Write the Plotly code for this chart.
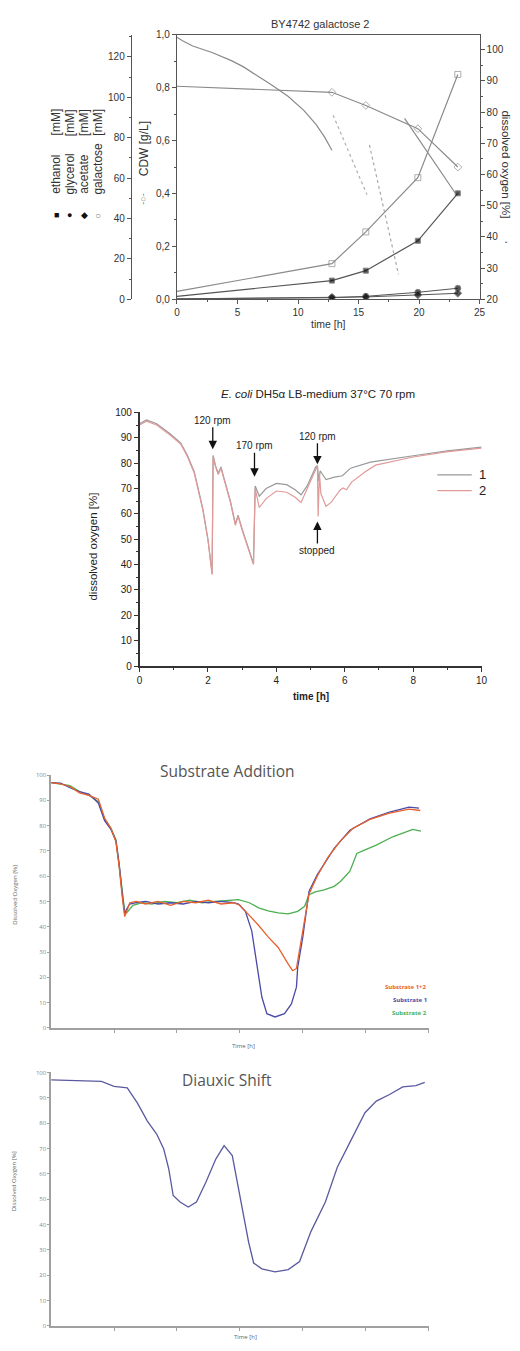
import plotly.graph_objects as go

W, H = 520, 1351


def px(x):
    return x / W


def py(y):
    return 1 - y / H


# ---------------- Panel 1 data: BY4742 galactose 2 ----------------
sample_t = [0, 12.8, 15.6, 19.9, 23.2]
cdw = [0.03, 0.135, 0.255, 0.46, 0.85]
galactose = [105.5, 102.5, 96.0, 84.5, 65.5]
ethanol = [1.5, 9.3, 14.2, 29.0, 52.5]
glycerol = [0.3, 0.8, 1.5, 3.5, 5.5]
acetate = [0.2, 1.0, 1.2, 2.2, 3.0]

do_t_a = [0, 0.5, 1.3, 2.9, 4.5, 5.5, 6.7, 7.8, 9.2, 10.5, 11.5, 12.2, 12.8]
do_a = [104.0, 102.8, 101.2, 99.1, 96.5, 94.5, 91.5, 88.8, 85.0, 80.5, 76.0, 72.0, 67.8]
do_t_b = [12.9, 15.7]
do_b = [79.0, 53.5]
do_t_c = [15.9, 18.3]
do_c = [69.5, 28.0]
do_t_d = [18.8, 23.0]
do_d = [78.0, 54.0]

# ---------------- Panel 2 data: E. coli DH5a ----------------
ecoli_t1 = [0, 0.2, 0.5, 0.9, 1.2, 1.4, 1.6, 1.85, 2.0, 2.08, 2.12, 2.15, 2.22, 2.3,
            2.38, 2.45, 2.55, 2.66, 2.8, 2.88, 3.0, 3.15, 3.33, 3.38, 3.5, 3.7, 4.0,
            4.3, 4.55, 4.72, 4.9, 5.15, 5.2, 5.24, 5.28, 5.45, 5.7, 5.93, 6.17, 6.75,
            7.5, 8.2, 9.0, 10.0]
ecoli_do1 = [95.5, 97.0, 95.5, 91.5, 88.0, 83.0, 76.5, 62.0, 50.0, 40.0, 36.5, 83.0, 79.0,
             76.0, 78.5, 75.0, 70.0, 64.8, 56.0, 59.5, 54.0, 48.0, 40.5, 71.0, 67.0, 70.0,
             72.0, 71.5, 69.5, 67.5, 71.0, 78.5, 79.0, 73.0, 77.0, 73.5, 74.5, 75.0, 78.0,
             80.4, 82.0, 83.3, 84.8, 86.3]
ecoli_t2 = [0, 0.2, 0.5, 0.9, 1.2, 1.4, 1.6, 1.85, 2.0, 2.08, 2.12, 2.15, 2.22, 2.3,
            2.38, 2.45, 2.55, 2.66, 2.8, 2.88, 3.0, 3.15, 3.33, 3.38, 3.5, 3.7, 4.0,
            4.3, 4.55, 4.72, 4.9, 5.15, 5.2, 5.22, 5.26, 5.3, 5.45, 5.6, 5.87, 5.95,
            6.05, 6.2, 6.6, 6.9, 8.0, 8.96, 10.0]
ecoli_do2 = [95.0, 96.5, 95.0, 91.0, 87.5, 82.5, 76.0, 61.5, 49.5, 39.5, 36.0, 82.5, 78.5,
             75.5, 78.0, 74.5, 69.5, 64.3, 55.5, 59.0, 53.5, 47.5, 40.0, 70.0, 62.5, 66.0,
             69.0, 68.5, 66.5, 64.5, 70.0, 78.0, 79.0, 59.0, 76.0, 68.0, 63.0, 64.5, 69.5,
             70.2, 69.5, 72.5, 76.6, 79.2, 82.4, 84.4, 85.9]

# ---------------- Panel 3 data: Substrate Addition ----------------
s12_x = [0, 0.15, 0.3, 0.45, 0.6, 0.75, 0.85, 0.95, 1.03, 1.08, 1.13, 1.17, 1.2, 1.25,
         1.35, 1.5, 1.7, 1.9, 2.1, 2.3, 2.5, 2.7, 2.9, 3.0, 3.14, 3.3, 3.45, 3.61, 3.77,
         3.84, 3.9, 3.95, 4.02, 4.1, 4.23, 4.4, 4.6, 4.8, 5.07, 5.38, 5.69, 5.87]
s12_y = [97, 96.5, 95.5, 93, 92, 90.5, 83, 79, 73.5, 64, 52, 44, 46, 49.5, 50, 49, 50,
         48.5, 50, 49.5, 50.5, 49, 49.5, 48.5, 44.8, 40.5, 36, 31.8, 25.2, 22.6, 23.5,
         30.5, 41, 53, 60, 67.5, 74, 79, 82.5, 85, 86.5, 86]
s1_x = [0, 0.15, 0.3, 0.45, 0.6, 0.75, 0.85, 0.95, 1.03, 1.08, 1.13, 1.17, 1.2, 1.25,
        1.35, 1.5, 1.7, 1.9, 2.1, 2.3, 2.5, 2.7, 2.9, 2.98, 3.09, 3.19, 3.27, 3.35, 3.43,
        3.56, 3.71, 3.82, 3.9, 3.92, 4.0, 4.1, 4.23, 4.5, 4.75, 5.07, 5.38, 5.69, 5.85]
s1_y = [97, 96.8, 95, 93.5, 92.5, 89, 82, 78.5, 74, 65, 53, 45, 47, 49, 49.5, 50, 49,
        49.5, 49, 50, 49.5, 50, 49.5, 49, 46, 38.3, 25.2, 12.2, 5.6, 4.3, 5.6, 9.5, 16.1,
        23.9, 35.7, 54, 60.5, 71, 78.2, 82.7, 85.4, 87.3, 86.9]
s2_x = [0, 0.15, 0.3, 0.45, 0.6, 0.75, 0.85, 0.95, 1.03, 1.08, 1.13, 1.17, 1.2, 1.3,
        1.45, 1.6, 1.8, 2.0, 2.2, 2.4, 2.6, 2.8, 2.98, 3.15, 3.3, 3.45, 3.61, 3.77, 3.92,
        4.03, 4.1, 4.2, 4.34, 4.5, 4.6, 4.75, 4.86, 5.0, 5.17, 5.43, 5.69, 5.75, 5.88]
s2_y = [97, 96.5, 95.8, 93.5, 92, 89.5, 82.5, 79, 74.5, 65, 53, 46, 45.5, 48.5, 49.5, 49,
        50, 49.5, 50.5, 49.5, 50, 50.5, 50.7, 49.5, 47.5, 46.3, 45.5, 45.1, 46.1, 48.1,
        52.7, 53.8, 54.6, 56, 57.9, 62, 69, 70.5, 72.3, 75.6, 78.2, 78.5, 77.8]

# ---------------- Panel 4 data: Diauxic Shift ----------------
dx_x = [0, 0.28, 0.59, 0.8, 1.0, 1.21, 1.37, 1.53, 1.68, 1.79, 1.87, 1.94, 2.05, 2.18,
        2.31, 2.46, 2.62, 2.75, 2.88, 2.98, 3.06, 3.14, 3.22, 3.35, 3.56, 3.77, 3.95,
        4.13, 4.36, 4.55, 4.75, 4.99, 5.17, 5.38, 5.59, 5.8, 5.94]
dx_y = [97.1, 96.9, 96.9, 96.5, 94.5, 93.9, 88, 80.8, 75.6, 69.8, 61.9, 51.5, 48.9, 46.9,
        48.9, 56.7, 65.9, 71.1, 67.2, 54.1, 43.7, 33, 24.8, 22.5, 21.3, 22.2, 25.4, 37.2,
        48.9, 62.6, 72.4, 84.1, 88.7, 91.3, 94.3, 94.8, 96.1]

fig = go.Figure()

# ---- Panel 1 traces ----
G = "#8a8a8a"
msz = [0] + [6] * (len(sample_t) - 1)
fig.add_trace(go.Scatter(x=do_t_a, y=do_a, xaxis="x", yaxis="y2", mode="lines",
                         line=dict(color=G, width=1.2)))
fig.add_trace(go.Scatter(x=do_t_b, y=do_b, xaxis="x", yaxis="y2", mode="lines",
                         line=dict(color="#b0b0b0", width=1.2, dash="dot")))
fig.add_trace(go.Scatter(x=do_t_c, y=do_c, xaxis="x", yaxis="y2", mode="lines",
                         line=dict(color="#a8a8a8", width=1.2, dash="dot")))
fig.add_trace(go.Scatter(x=do_t_d, y=do_d, xaxis="x", yaxis="y2", mode="lines",
                         line=dict(color=G, width=1.2)))
fig.add_trace(go.Scatter(x=sample_t, y=galactose, xaxis="x", yaxis="y3", mode="lines+markers",
                         line=dict(color=G, width=1.2),
                         marker=dict(symbol="diamond-open", size=msz, color=G)))
fig.add_trace(go.Scatter(x=sample_t, y=cdw, xaxis="x", yaxis="y", mode="lines+markers",
                         line=dict(color=G, width=1.2),
                         marker=dict(symbol="square-open", size=msz, color=G)))
fig.add_trace(go.Scatter(x=sample_t, y=ethanol, xaxis="x", yaxis="y3", mode="lines+markers",
                         line=dict(color="#555", width=1.2),
                         marker=dict(symbol="square", size=[0] + [5] * 4, color="#111")))
fig.add_trace(go.Scatter(x=sample_t, y=glycerol, xaxis="x", yaxis="y3", mode="lines+markers",
                         line=dict(color="#555", width=1),
                         marker=dict(symbol="circle", size=msz, color="#111")))
fig.add_trace(go.Scatter(x=sample_t, y=acetate, xaxis="x", yaxis="y3", mode="lines+markers",
                         line=dict(color="#555", width=1),
                         marker=dict(symbol="diamond", size=msz, color="#111")))

# ---- Panel 2 traces ----
fig.add_trace(go.Scatter(x=ecoli_t1, y=ecoli_do1, xaxis="x2", yaxis="y4", mode="lines",
                         line=dict(color="#9a9a9a", width=1.2)))
fig.add_trace(go.Scatter(x=ecoli_t2, y=ecoli_do2, xaxis="x2", yaxis="y4", mode="lines",
                         line=dict(color="#e09a9a", width=1.2)))

# ---- Panel 3 traces ----
fig.add_trace(go.Scatter(x=s2_x, y=s2_y, xaxis="x3", yaxis="y5", mode="lines",
                         line=dict(color="#4caf50", width=1.3)))
fig.add_trace(go.Scatter(x=s1_x, y=s1_y, xaxis="x3", yaxis="y5", mode="lines",
                         line=dict(color="#4a4aa8", width=1.3)))
fig.add_trace(go.Scatter(x=s12_x, y=s12_y, xaxis="x3", yaxis="y5", mode="lines",
                         line=dict(color="#e8602c", width=1.3)))

# ---- Panel 4 trace ----
fig.add_trace(go.Scatter(x=dx_x, y=dx_y, xaxis="x4", yaxis="y6", mode="lines",
                         line=dict(color="#5a5aa0", width=1.3)))

AX1 = "#555"
f1 = dict(family="Liberation Sans, Arial, sans-serif", size=10, color="#333")
common1 = dict(showgrid=False, zeroline=False, showline=True, linecolor=AX1, linewidth=1,
               ticks="outside", ticklen=4, tickcolor=AX1, tickfont=f1)

light = "#a0a0a0"
f3 = dict(family="Open Sans, sans-serif", size=6, color="#888")
common3 = dict(showgrid=False, zeroline=False, showline=True, linecolor=light, linewidth=1.5,
               ticks="outside", tickcolor=light, tickfont=f3)

fig.update_layout(
    width=W, height=H, autosize=False,
    margin=dict(l=0, r=0, t=0, b=0),
    paper_bgcolor="white", plot_bgcolor="white",
    showlegend=False,
    separators=",.",
    font=dict(family="Liberation Sans, Arial, sans-serif"),
    # panel 1
    xaxis=dict(domain=[px(177), px(485)], anchor="y", range=[0, 25], tick0=0, dtick=5,
               minor=dict(dtick=2.5, ticks="outside", ticklen=2, tickcolor=AX1),
               mirror=True, **common1),
    yaxis=dict(domain=[py(296), py(29)], anchor="x", range=[0, 1.0], dtick=0.2,
               tickformat=".1f", minor=dict(dtick=0.1, ticks="outside", ticklen=2, tickcolor=AX1),
               **common1),
    yaxis2=dict(overlaying="y", side="right", anchor="x", range=[20, 104.8], tick0=20, dtick=10,
                minor=dict(dtick=5, ticks="outside", ticklen=2, tickcolor=AX1), **common1),
    yaxis3=dict(overlaying="y", side="left", anchor="free", position=px(130), range=[0, 131],
                dtick=20, minor=dict(dtick=10, ticks="outside", ticklen=2, tickcolor=AX1),
                **common1),
    # panel 2
    xaxis2=dict(domain=[px(139), px(487)], anchor="y4", range=[0, 10], dtick=2,
                minor=dict(dtick=1, ticks="outside", ticklen=2, tickcolor="#333"),
                showgrid=False, zeroline=False, showline=True, linecolor="#333", linewidth=1.5,
                ticks="outside", ticklen=4, tickcolor="#333",
                tickfont=dict(family="Liberation Sans, Arial", size=10, color="#222")),
    yaxis4=dict(domain=[py(666), py(410)], anchor="x2", range=[0, 100], dtick=10,
                minor=dict(dtick=5, ticks="outside", ticklen=2, tickcolor="#333"),
                showgrid=False, zeroline=False, showline=True, linecolor="#333", linewidth=1.5,
                ticks="outside", ticklen=4, tickcolor="#333",
                tickfont=dict(family="Liberation Sans, Arial", size=10, color="#222")),
    # panel 3
    xaxis3=dict(domain=[px(49), px(433)], anchor="y5", range=[0, 6], tickvals=[1, 2, 3, 4, 5, 6],
                showticklabels=False, ticklen=3, **common3),
    yaxis5=dict(domain=[py(1031), py(776)], anchor="x3", range=[0, 100], dtick=10, ticklen=2,
                **common3),
    # panel 4
    xaxis4=dict(domain=[px(49), px(433)], anchor="y6", range=[0, 6], tickvals=[1, 2, 3, 4, 5, 6],
                showticklabels=False, ticklen=3, **common3),
    yaxis6=dict(domain=[py(1331.7), py(1076)], anchor="x4", range=[0, 100], dtick=10, ticklen=2,
                **common3),
)

ann = []


def A(x, y, text, **kw):
    d = dict(x=px(x), y=py(y), xref="paper", yref="paper", text=text, showarrow=False,
             xanchor="center", yanchor="middle")
    d.update(kw)
    ann.append(d)


# Panel 1 texts
A(323, 18, "BY4742 galactose 2", font=dict(size=11, color="#333"))
A(331, 321, "time [h]", font=dict(size=10.5, color="#333"))
A(143, 144, "CDW [g/L]", textangle=-90, font=dict(size=12, color="#333"))
A(143, 195, "-○-", textangle=-90, font=dict(size=9, color="#777"))
A(512, 160, "dissolved oxygen [%]", textangle=90, font=dict(size=11.5, color="#333"))
A(512, 238, "•", font=dict(size=6, color="#555"))
leg_names = ["ethanol", "glycerol", "acetate", "galactose"]
leg_syms = ["■", "●", "◆", "○"]
leg_x = [54, 68, 83, 97]
for nm, sy, xx in zip(leg_names, leg_syms, leg_x):
    A(xx, 192, nm, textangle=-90, yanchor="bottom", font=dict(size=12, color="#333"))
    A(xx, 133, "[mM]", textangle=-90, yanchor="bottom", font=dict(size=12, color="#333"))
    A(xx, 211, sy, font=dict(size=9 if sy != "○" else 10, color="#111" if sy != "○" else "#888"))

# Panel 2 texts
A(321, 391, "<i>E. coli</i> DH5α LB-medium 37°C 70 rpm", font=dict(size=11.5, color="#222"))
A(313, 697, "<b>time [h]</b>", font=dict(size=10, color="#222"))
A(92, 545, "dissolved oxygen [%]", textangle=-90, font=dict(size=11.5, color="#222"))
A(482, 473, "1", xanchor="left", font=dict(size=13, color="#222"))
A(482, 489, "2", xanchor="left", font=dict(size=13, color="#222"))
arrow_kw = dict(xref="x2", yref="y4", showarrow=True, arrowhead=2, arrowsize=1.3,
                arrowwidth=1.3, arrowcolor="#111", ax=0, font=dict(size=10, color="#222"))
ann.append(dict(x=2.14, y=85.5, text="120 rpm", ay=-29, **arrow_kw))
ann.append(dict(x=3.36, y=74.6, text="170 rpm", ay=-31, **arrow_kw))
ann.append(dict(x=5.2, y=79.5, text="120 rpm", ay=-28, **arrow_kw))
ann.append(dict(x=5.2, y=57.0, text="stopped", ay=29, **arrow_kw))

# Panel 3 texts
A(228, 772, "Substrate Addition", font=dict(family="Open Sans, sans-serif", size=15.5, color="#555"))
A(245, 1049, "Time [h]", font=dict(family="Open Sans, sans-serif", size=6, color="#666"))
A(12, 897, "Dissolved Oxygen [%]", textangle=-90,
  font=dict(family="Open Sans, sans-serif", size=6, color="#666"))
A(434, 990, "<b>Substrate 1+2</b>", xanchor="right", font=dict(family="Open Sans", size=6, color="#e8602c"))
A(434, 1003, "<b>Substrate 1</b>", xanchor="right", font=dict(family="Open Sans", size=6, color="#4a4aa8"))
A(434, 1016, "<b>Substrate 2</b>", xanchor="right", font=dict(family="Open Sans", size=6, color="#4caf50"))

# Panel 4 texts
A(228, 1084, "Diauxic Shift", font=dict(family="Open Sans, sans-serif", size=15.5, color="#555"))
A(247, 1343, "Time [h]", font=dict(family="Open Sans, sans-serif", size=6, color="#666"))
A(12, 1186, "Dissolved Oxygen [%]", textangle=-90,
  font=dict(family="Open Sans, sans-serif", size=6, color="#666"))

fig.update_layout(annotations=ann)

# legend line samples for panel 2
fig.update_layout(shapes=[
    dict(type="line", xref="paper", yref="paper", x0=px(442), x1=px(477), y0=py(473), y1=py(473),
         line=dict(color="#9a9a9a", width=1.2)),
    dict(type="line", xref="paper", yref="paper", x0=px(442), x1=px(477), y0=py(489), y1=py(489),
         line=dict(color="#e09a9a", width=1.2)),
])

fig.write_html("out.html", config={"displayModeBar": False},
               post_script="document.body.style.margin='0';document.body.style.overflow='hidden';")
